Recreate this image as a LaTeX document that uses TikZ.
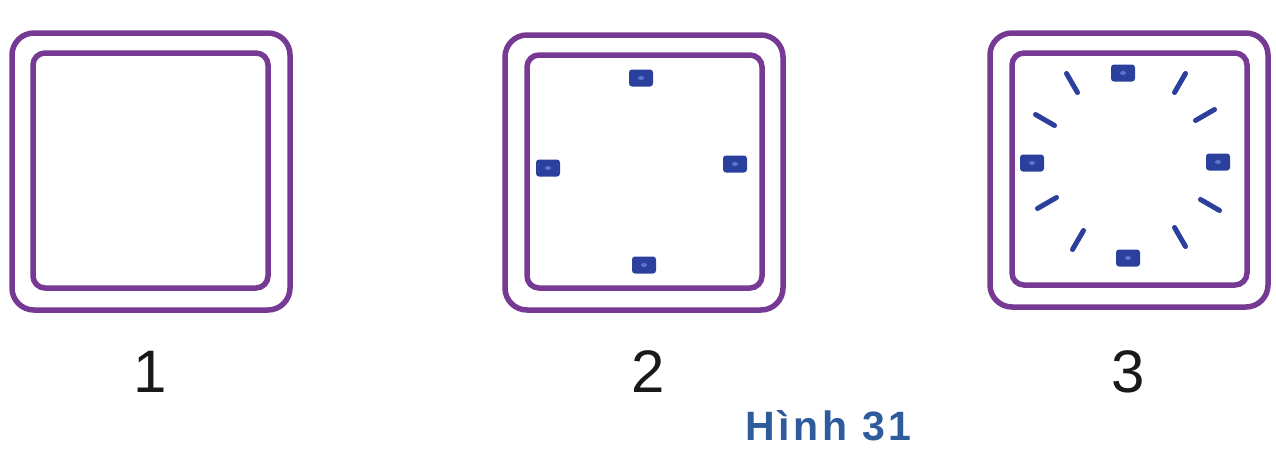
\documentclass[tikz,border=0pt]{standalone}
\usepackage{fontspec}
\setmainfont{Liberation Sans}
\definecolor{frame}{HTML}{763A94}
\definecolor{mark}{HTML}{2B3F9C}
\definecolor{markdot}{HTML}{5A78C8}
\definecolor{capblue}{HTML}{2E5B9C}
\begin{document}
\begin{tikzpicture}[x=1pt,y=-1pt,
  outerframe/.style={draw=frame,line width=5.5pt,rounded corners=22pt},
  innerframe/.style={draw=frame,line width=5.5pt,rounded corners=12pt},
  markbox/.style={fill=mark,draw=none,rounded corners=3pt,minimum width=24pt,minimum height=17pt,inner sep=0pt,outer sep=0pt},
  tick/.style={draw=mark,line width=5pt,line cap=round},
  numlabel/.style={anchor=base,font=\fontsize{60}{60}\selectfont,text=black!90,inner sep=0pt},
  caption/.style={anchor=base west,font=\fontsize{41}{41}\selectfont\bfseries\addfontfeatures{LetterSpace=9},text=capblue,inner sep=0pt}]
\fill[white] (0,0) rectangle (1276,450);
\useasboundingbox (0,0) rectangle (1276,450);
% figure 1
\draw[outerframe] (12,33) rectangle (290,310);
\draw[innerframe] (33,53) rectangle (268,288);
% figure 2
\draw[outerframe] (505,35) rectangle (783,310);
\draw[innerframe] (527,55) rectangle (762,288);
\foreach \n/\x/\y in {a/641/78,b/548/168,c/735/164,d/644/265}{
  \node[markbox] (m2\n) at (\x,\y) {};
  \fill[markdot] (m2\n.center) ellipse (3pt and 2pt);
}
% figure 3
\draw[outerframe] (990,33) rectangle (1268,307);
\draw[innerframe] (1012,53) rectangle (1247,285);
\foreach \n/\x/\y in {a/1123/73,b/1032/163,c/1218/162,d/1128/258}{
  \node[markbox] (m3\n) at (\x,\y) {};
  \fill[markdot] (m3\n.center) ellipse (3pt and 2pt);
}
\draw[tick] (1066.5,73.5) -- (1077.5,92.5);
\draw[tick] (1185.5,73.5) -- (1174.5,92.5);
\draw[tick] (1035.5,114.5) -- (1054.5,125.5);
\draw[tick] (1214.5,109.5) -- (1195.5,120.5);
\draw[tick] (1037.5,208.5) -- (1056.5,197.5);
\draw[tick] (1219.5,210.5) -- (1200.5,199.5);
\draw[tick] (1072.5,249.5) -- (1083.5,230.5);
\draw[tick] (1185.5,246.5) -- (1174.5,227.5);
% labels
\node[numlabel] (l1) at (150,392) {1};
\node[numlabel] (l2) at (648,392) {2};
\node[numlabel] (l3) at (1128,392) {3};
\node[caption] (cap) at (745,440) {Hình 31};
\end{tikzpicture}
\end{document}
